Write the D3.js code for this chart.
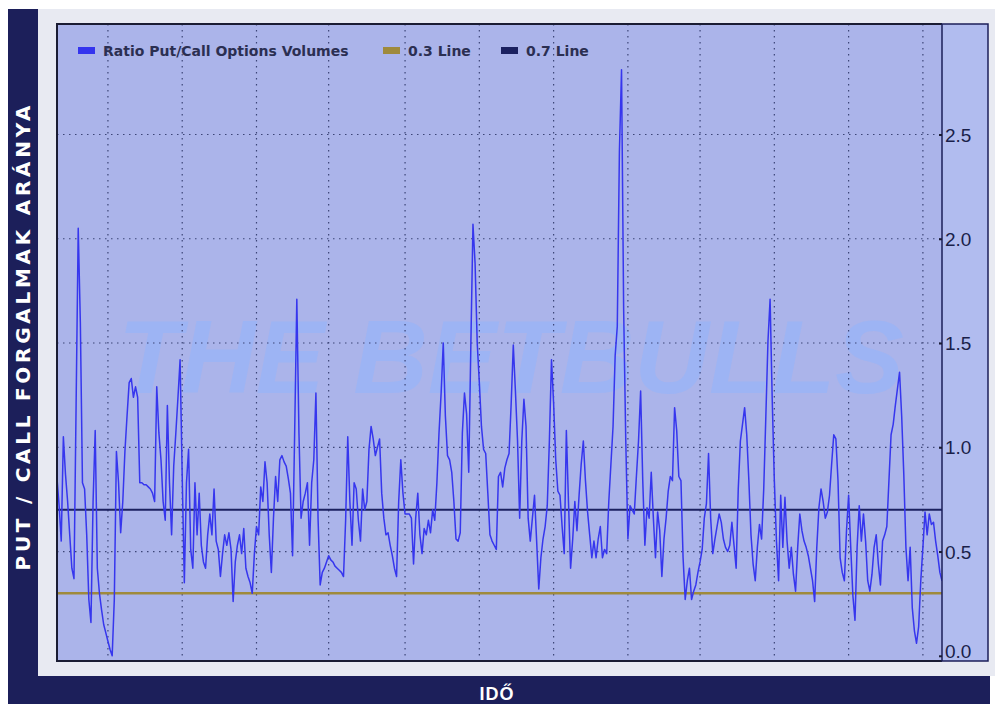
<!DOCTYPE html>
<meta charset="utf-8">
<style>
  body { margin: 0; background: #fff; }
  svg { display: block; }
</style>
<svg width="995" height="704"></svg>
<script src="https://d3js.org/d3.v7.min.js"></script>
<script>

// put/call ratio in four stretches (left to right)
var ratioPart1 = [0.85,0.72,0.55,1.05,0.87,0.74,0.58,0.42,0.37,1.20,
    2.05,1.60,0.83,0.80,0.58,0.27,0.16,0.74,1.08,0.42,
    0.30,0.22,0.15,0.11,0.07,0.03,0.00,0.27,0.98,0.83,
    0.59,0.74,0.98,1.15,1.31,1.33,1.24,1.29,1.24,0.83,
    0.83,0.82,0.82,0.81,0.80,0.78,0.74,1.29,1.07,0.94,
    0.74,0.65,1.20,0.83,0.58,0.91,1.07,1.24,1.42,0.86,
    0.35,0.83,0.99,0.51,0.42,0.83,0.58,0.78,0.53,0.45,
    0.42,0.58,0.68,0.58,0.80,0.55,0.51,0.38,0.49,0.58,
    0.53,0.59,0.51,0.26,0.45,0.53,0.58,0.49,0.61,0.42,
    0.38,0.35,0.30,0.49,0.62,0.58,0.81,0.74,0.93,0.83,
    0.58,0.40,0.66,0.86,0.74];
var ratioPart2 = [0.94,0.96,0.93,0.91,0.85,0.78,0.48,1.08,1.71,1.07,0.66,0.74,
    0.78,0.83,0.53,0.83,0.94,1.26,0.66,0.34,0.40,0.42,
    0.45,0.48,0.46,0.45,0.43,0.42,0.41,0.40,0.38,0.65,
    1.05,0.74,0.53,0.83,0.80,0.65,0.55,0.80,0.70,0.74,
    0.99,1.10,1.04,0.96,1.00,1.04,0.78,0.66,0.58,0.59,
    0.53,0.48,0.42,0.38,0.74,0.94,0.78,0.68,0.68,0.68,
    0.66,0.44,0.66,0.78,0.58,0.49,0.61,0.58,0.65,0.59,
    0.70,0.65,0.83,1.07,1.26,1.50,1.15,0.96,0.94,0.88,
    0.74,0.56,0.55,0.59,1.07,1.26,1.16,0.88,1.49,2.07,
    1.88,1.50,1.31,1.10,0.99,0.97,0.78,0.58,0.55,0.53,
    0.51,0.86,0.88,0.81];
var ratioPart3 = [0.90,0.94,0.97,1.21,1.49,1.27,1.03,0.66,1.03,1.23,
    1.10,0.66,0.55,0.66,0.77,0.55,0.32,0.47,0.56,0.62,
    0.72,1.03,1.42,1.21,0.94,0.79,0.77,0.62,0.49,1.08,
    0.74,0.42,0.56,0.74,0.60,0.77,0.92,1.03,0.84,0.69,
    0.58,0.47,0.55,0.47,0.56,0.62,0.47,0.51,0.49,0.74,
    0.92,1.10,1.44,1.58,2.42,2.81,1.66,1.03,0.56,0.72,
    0.70,0.68,0.86,1.03,1.27,0.84,0.53,0.71,0.66,0.88,
    0.66,0.47,0.69,0.60,0.38,0.56,0.66,0.79,0.86,0.84,
    1.19,1.08,0.86,0.84,0.47,0.27,0.36,0.42,0.27,0.31,
    0.34,0.40,0.45,0.51,0.66,0.73,0.97,0.66,0.49,0.56,
    0.62,0.68,0.64,0.56];
var ratioPart4 = [0.52,0.50,0.53,0.64,0.53,0.42,0.80,1.03,1.11,1.19,
    1.06,0.84,0.58,0.44,0.36,0.52,0.63,0.56,0.80,1.15,
    1.51,1.71,1.23,0.84,0.55,0.36,0.77,0.52,0.76,0.55,
    0.42,0.52,0.39,0.31,0.52,0.68,0.60,0.55,0.52,0.48,
    0.42,0.36,0.26,0.52,0.71,0.80,0.74,0.66,0.69,0.77,
    0.92,1.06,1.04,0.84,0.47,0.40,0.36,0.60,0.77,0.52,
    0.29,0.17,0.52,0.72,0.55,0.68,0.55,0.36,0.31,0.39,
    0.52,0.58,0.44,0.34,0.55,0.58,0.62,0.84,1.06,1.11,
    1.20,1.28,1.36,1.15,0.87,0.52,0.36,0.52,0.23,0.12,
    0.06,0.14,0.36,0.52,0.69,0.58,0.68,0.63,0.64,0.55,
    0.48,0.40,0.36];

var ratio = ratioPart1.concat(ratioPart2, ratioPart3, ratioPart4);

var levels = [0.3, 0.7];
var yTicks = [0, 0.5, 1.0, 1.5, 2.0, 2.5];
var yGrid = [0.5, 1.0, 1.5, 2.0, 2.5];
var xGrid = [24, 59, 94, 128, 164, 199, 234, 269, 303, 338, 373, 408];   // day index of the dotted time lines
var legendNames = ["Ratio Put/Call Options Volumes", "0.3 Line", "0.7 Line"];

var svg = d3.select("svg"),
    plotL = 57, plotR = 942, plotT = 24, plotB = 661,
    navy = "#1c1f5a";

var x = d3.scaleLinear().domain([0, ratio.length - 1]).range([plotL, plotR]);
var y = d3.scaleLinear().domain([-0.025, 3.03]).range([plotB, plotT]);

// frame
svg.append("rect").attr("x", 8).attr("y", 9).attr("width", 982).attr("height", 695).attr("fill", navy);
svg.append("rect").attr("x", 38).attr("y", 9).attr("width", 957).attr("height", 667).attr("fill", "#e8eaf2");
svg.append("rect").attr("x", plotL).attr("y", plotT).attr("width", plotR - plotL).attr("height", plotB - plotT)
    .attr("fill", "#abb4ea");

// watermark
svg.append("text")
    .attr("x", 118).attr("y", 393)
    .attr("textLength", 786).attr("lengthAdjust", "spacingAndGlyphs")
    .style("font", "italic bold 104px 'Liberation Sans', Arial, sans-serif")
    .attr("fill", "#9cb4f6").attr("opacity", 0.9)
    .text("THE BETBULLS");

// dotted grid
var grid = svg.append("g").attr("stroke", "#3c4577").attr("stroke-width", 1.2)
    .attr("stroke-dasharray", "1.5,4.5");
grid.selectAll(".gx").data(xGrid).enter().append("line")
    .attr("x1", function (d) { return x(d); }).attr("x2", function (d) { return x(d); })
    .attr("y1", plotT).attr("y2", plotB);
grid.selectAll(".gy").data(yGrid).enter().append("line")
    .attr("x1", plotL).attr("x2", plotR)
    .attr("y1", function (d) { return y(d); }).attr("y2", function (d) { return y(d); });

// 0.3 and 0.7 lines
svg.selectAll(".level").data(levels).enter().append("line")
    .attr("x1", plotL).attr("x2", plotR)
    .attr("y1", function (d) { return y(d); }).attr("y2", function (d) { return y(d); })
    .attr("stroke", function (d) { return d < 0.5 ? "#9f8a3c" : "#1b2160"; })
    .attr("stroke-width", function (d) { return d < 0.5 ? 2.6 : 2; });

// ratio line
var line = d3.line()
    .x(function (d, i) { return x(i); })
    .y(function (d) { return y(d); });

svg.append("path").datum(ratio)
    .attr("d", line)
    .attr("fill", "none")
    .attr("stroke", "#3636ee")
    .attr("stroke-width", 1.5)
    .attr("stroke-linejoin", "round");

// plot border
svg.append("path")
    .attr("d", "M" + plotR + "," + plotT + "H" + plotL + "V" + plotB + "H" + plotR)
    .attr("fill", "none").attr("stroke", "#1a1c33").attr("stroke-width", 2);

// right axis box
svg.append("rect").attr("x", plotR).attr("y", plotT).attr("width", 46).attr("height", plotB - plotT)
    .attr("fill", "#b1bcef").attr("stroke", navy).attr("stroke-width", 1.5);

var axis = svg.append("g")
    .attr("transform", "translate(" + plotR + ",0)")
    .call(d3.axisRight(y).tickValues(yTicks).tickSize(0).tickPadding(3)
        .tickFormat(d3.format(".1f")));
axis.select(".domain").remove();
axis.selectAll("text")
    .style("font", "19px 'Liberation Sans', Arial, sans-serif")
    .attr("fill", "#1a1f4a")
    .attr("dy", function (d) { return d === 0 ? "0.1em" : "0.35em"; });
axis.selectAll(".tick").append("rect")
    .attr("x", -3).attr("y", -1).attr("width", 3).attr("height", 2).attr("fill", "#1a1c33");

// legend
var swatch = ["#3434ee", "#9f8a3c", "#1b2160"],
    legendX = [78, 383, 501],
    legend = svg.selectAll(".legend").data(legendNames).enter().append("g")
        .attr("transform", function (d, i) { return "translate(" + legendX[i] + ",47)"; });
legend.append("rect").attr("width", 17).attr("height", 7)
    .attr("fill", function (d, i) { return swatch[i]; });
legend.append("text")
    .attr("x", 25).attr("y", 8.5)
    .style("font", "bold 14px 'DejaVu Sans', sans-serif")
    .attr("fill", "#2b2f52")
    .text(function (d) { return d; });

// titles
svg.append("text")
    .attr("transform", "translate(30,338) rotate(-90)")
    .attr("text-anchor", "middle")
    .attr("textLength", 465).attr("lengthAdjust", "spacing")
    .style("font", "bold 20px 'DejaVu Sans', sans-serif")
    .attr("fill", "#fff")
    .text("PUT / CALL FORGALMAK ARÁNYA");

svg.append("text")
    .attr("x", 497).attr("y", 700)
    .attr("text-anchor", "middle")
    .style("font", "bold 18px 'Liberation Sans', Arial, sans-serif")
    .style("letter-spacing", "1px")
    .attr("fill", "#fff")
    .text("IDŐ");

</script>
